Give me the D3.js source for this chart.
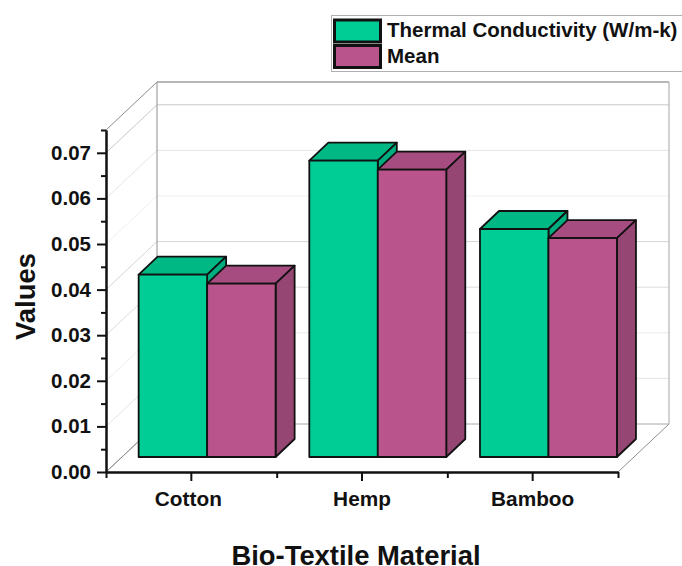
<!DOCTYPE html>
<html>
<head>
<meta charset="utf-8">
<script src="https://cdn.jsdelivr.net/npm/d3@7"></script>
<style>
    body { margin: 0; background: #fff; }
    svg { display: block; }
    text { font-family: "Liberation Sans", Arial, sans-serif; font-weight: bold; fill: #111; }
    .axis path, .axis line { stroke: #111; stroke-width: 2px; }
</style>
</head>
<body>
<div id="chart"><svg></svg></div>
<script>
// values
var categories = ["Cotton", "Hemp", "Bamboo"];
var thermal = [0.040, 0.065, 0.050];
var mean = [0.038, 0.063, 0.048];
var seriesNames = ["Thermal Conductivity (W/m-k)", "Mean"];
var majorTicks = [0, 0.01, 0.02, 0.03, 0.04, 0.05, 0.06, 0.07];
var minorTicks = [0.005, 0.015, 0.025, 0.035, 0.045, 0.055, 0.065, 0.075];

var W = 682;
var H = 566;

// front plane of the axes
var L = 106;
var R = 618;
var T = 130;
var B = 472;

// depth: wall is the back of the box, barA/barB the front and back of a bar
var wall = { dx: 51, dy: -48 };
var barA = { dx: 15.8, dy: -15 };
var barB = { dx: 34.8, dy: -33 };

var colors = [
    { front: "#00cc96", top: "#00b884", side: "#00ad7e" },
    { front: "#ba548c", top: "#a64c80", side: "#964673" }
];

var x = d3.scaleBand().domain(categories).range([L, R]);
var xEdge = d3.scaleLinear().domain([0, categories.length]).range([L, R]);
var xInner = d3.scaleBand()
    .domain(d3.range(seriesNames.length))
    .range([0, x.bandwidth()])
    .paddingOuter(0.246);
var y = d3.scaleLinear().domain([0, 0.075]).range([B, T]);

var svg = d3.select("#chart svg").attr("width", W).attr("height", H);

function line(g, x1, y1, x2, y2, color, width) {
    g.append("line")
        .attr("x1", x1).attr("y1", y1)
        .attr("x2", x2).attr("y2", y2)
        .attr("stroke", color)
        .attr("stroke-width", width);
}

// walls and grid
var gWalls = svg.append("g").attr("class", "walls");
var gridColor = d3.scaleOrdinal()
    .domain(majorTicks)
    .range(["#a8a8a8", "#e4e4e4", "#ececec", "#dcdcdc", "#d4d4d4", "#f0f0f0", "#e6e6e6", "#c8c8c8"]);

majorTicks.forEach(function(v) {
    var c = gridColor(v);
    var yv = y(v);
    line(gWalls, L, yv, L + wall.dx, yv + wall.dy, c, 1);
    line(gWalls, L + wall.dx, yv + wall.dy, R + wall.dx, yv + wall.dy, c, 1);
});
line(gWalls, L, T, L + wall.dx, T + wall.dy, "#8c8c8c", 1);
line(gWalls, L + wall.dx, T + wall.dy, R + wall.dx, T + wall.dy, "#707070", 1.2);
line(gWalls, L + wall.dx, T + wall.dy, L + wall.dx, B + wall.dy, "#a0a0a0", 1.2);
line(gWalls, R + wall.dx, T + wall.dy, R + wall.dx, B + wall.dy, "#b4b4b4", 1.2);
line(gWalls, L, B, L + wall.dx, B + wall.dy, "#909090", 1);
line(gWalls, R, B, R + wall.dx, B + wall.dy, "#909090", 1);

// bars
var gData = svg.append("g").attr("class", "data");
var series = [thermal, mean];

function poly(g, pts, fill) {
    g.append("polygon")
        .attr("points", pts.map(function(p) { return p.join(","); }).join(" "))
        .attr("fill", fill)
        .attr("stroke", "#111")
        .attr("stroke-width", 1.8)
        .attr("stroke-linejoin", "round");
}

categories.forEach(function(cat, i) {
    series.forEach(function(values, s) {
        var g = gData.append("g");
        var x0 = x(cat) + xInner(s);
        var x1 = x0 + xInner.bandwidth();
        var y0 = y(0);
        var yv = y(values[i]);
        var c = colors[s];

        poly(g, [
            [x0 + barA.dx, yv + barA.dy],
            [x0 + barB.dx, yv + barB.dy],
            [x1 + barB.dx, yv + barB.dy],
            [x1 + barA.dx, yv + barA.dy]
        ], c.top);
        poly(g, [
            [x1 + barA.dx, yv + barA.dy],
            [x1 + barB.dx, yv + barB.dy],
            [x1 + barB.dx, y0 + barB.dy],
            [x1 + barA.dx, y0 + barA.dy]
        ], c.side);
        poly(g, [
            [x0 + barA.dx, yv + barA.dy],
            [x1 + barA.dx, yv + barA.dy],
            [x1 + barA.dx, y0 + barA.dy],
            [x0 + barA.dx, y0 + barA.dy]
        ], c.front);
    });
});

// axes
svg.append("g")
    .attr("class", "axis")
    .attr("transform", "translate(" + L + ",0)")
    .call(d3.axisLeft(y).tickValues(minorTicks).tickSize(5).tickSizeOuter(0).tickFormat(""));
var gyAxis = svg.append("g")
    .attr("class", "axis")
    .attr("transform", "translate(" + L + ",0)")
    .call(d3.axisLeft(y).tickValues(majorTicks).tickSize(9).tickSizeOuter(0).tickFormat(d3.format(".2f")));
gyAxis.selectAll("text")
    .attr("x", -15)
    .style("font-size", "20.5px");

svg.append("g")
    .attr("class", "axis")
    .attr("transform", "translate(0," + B + ")")
    .call(d3.axisBottom(xEdge).tickValues(d3.range(categories.length + 1)).tickSize(6).tickSizeOuter(0).tickFormat(""));
var gxAxis = svg.append("g")
    .attr("class", "axis")
    .attr("transform", "translate(0," + B + ")")
    .call(d3.axisBottom(x).tickSize(9).tickSizeOuter(0));
gxAxis.selectAll("text")
    .attr("y", 19)
    .attr("dx", function(d) { return d === "Cotton" ? -3 : 0; })
    .style("font-size", "20.8px");

// axis titles
svg.append("text")
    .attr("x", 356)
    .attr("y", 565)
    .attr("text-anchor", "middle")
    .style("font-size", "27.4px")
    .text("Bio-Textile Material");
svg.append("text")
    .attr("transform", "translate(35,296.5) rotate(-90)")
    .attr("text-anchor", "middle")
    .style("font-size", "27.4px")
    .text("Values");

// legend
var gLegend = svg.append("g").attr("class", "legend");
gLegend.append("rect")
    .attr("x", 331.5).attr("y", 15.5)
    .attr("width", 360).attr("height", 56)
    .attr("fill", "#fff")
    .attr("stroke", "#b0b0b0");
seriesNames.forEach(function(name, s) {
    gLegend.append("rect")
        .attr("x", 334.5).attr("y", 20 + s * 25.5)
        .attr("width", 46).attr("height", 22)
        .attr("fill", colors[s].front)
        .attr("stroke", "#111")
        .attr("stroke-width", 3);
    gLegend.append("text")
        .attr("x", 387).attr("y", 37 + s * 26)
        .style("font-size", "20.5px")
        .text(name);
});
</script>
</body>
</html>
